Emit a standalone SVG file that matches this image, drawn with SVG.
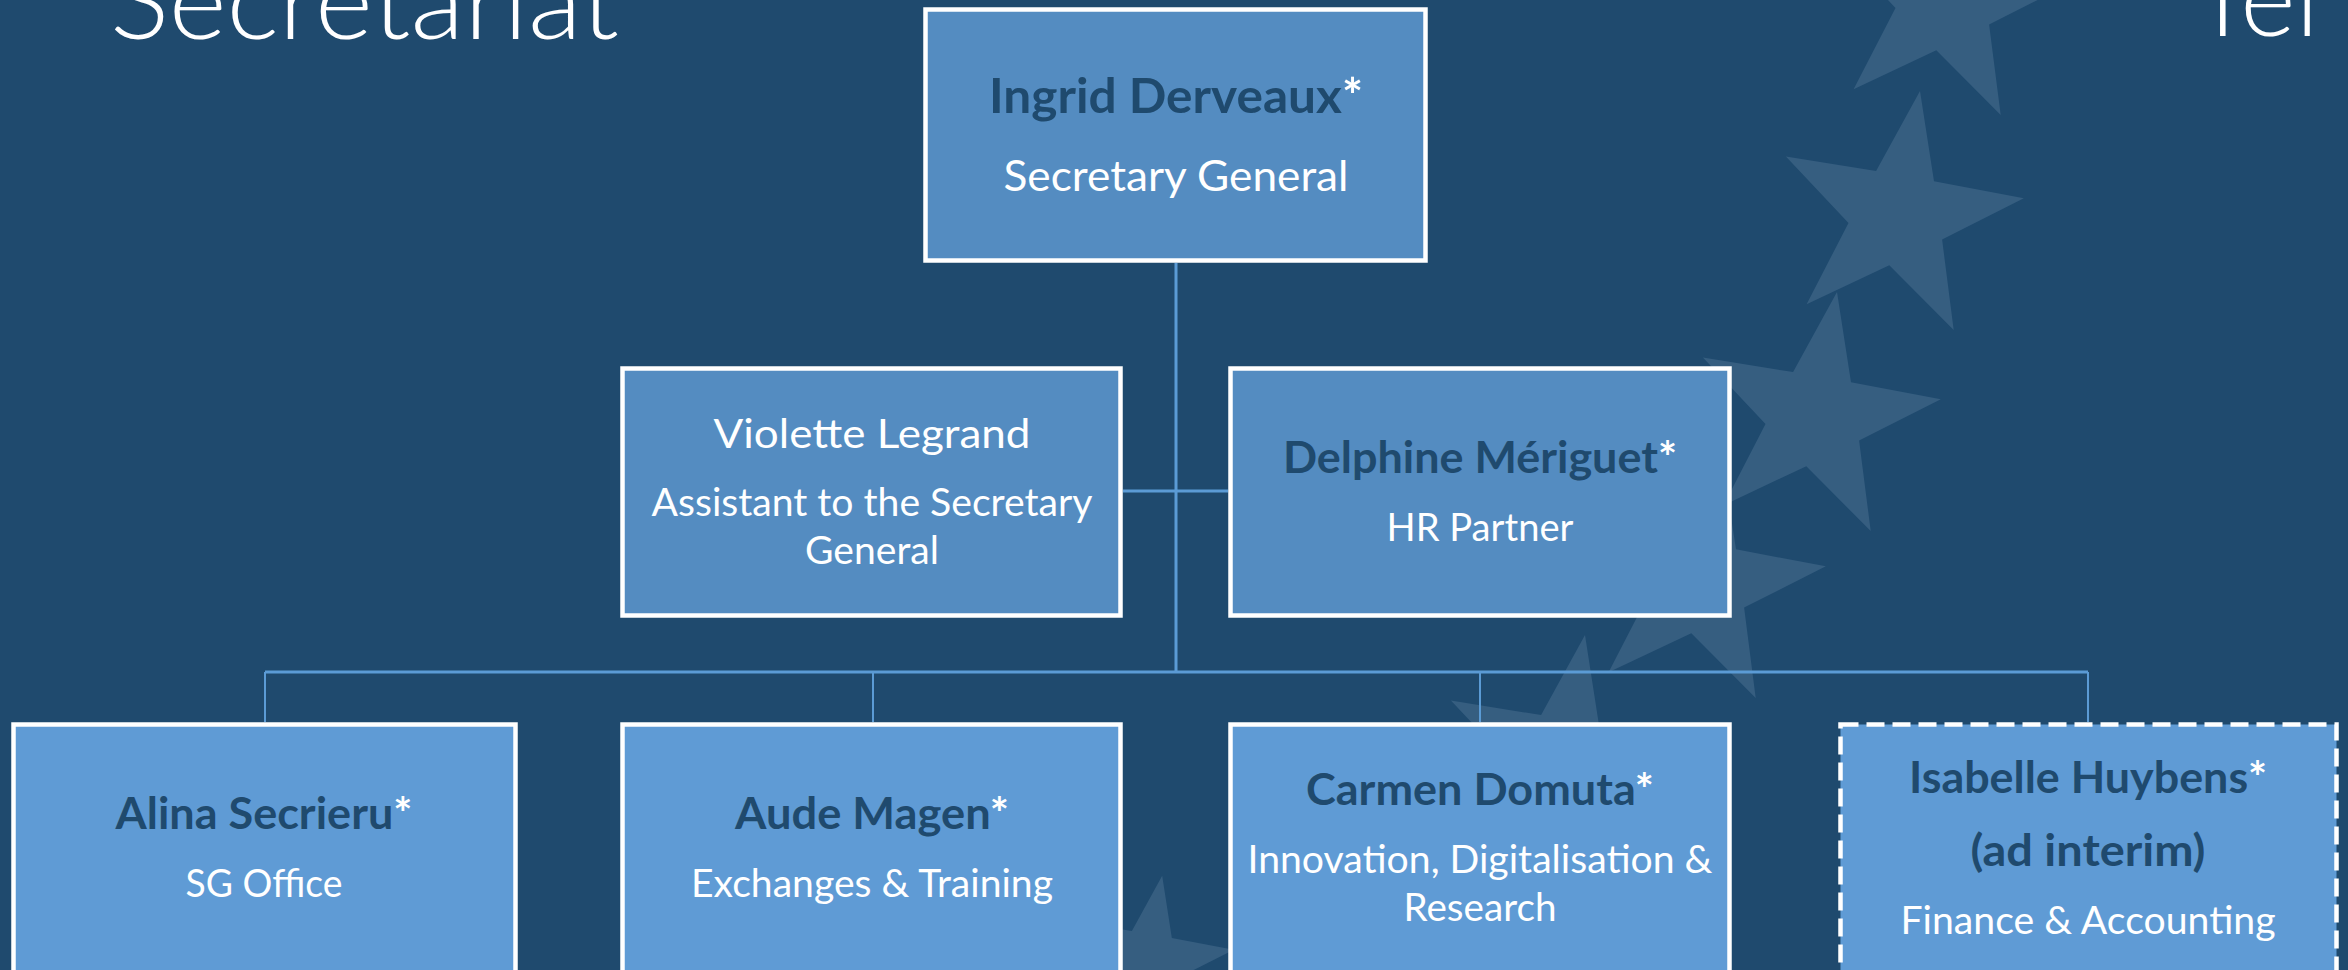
<svg xmlns="http://www.w3.org/2000/svg" xmlns:xlink="http://www.w3.org/1999/xlink" width="2348" height="970" viewBox="0 0 2348 970">
<style>
  .bg{fill:#1F4A6E}
  .star{fill:#365E80}
  .box1{fill:#548CC1;stroke:#FFFFFF;stroke-width:4.5}
  .box2{fill:#5F9BD5;stroke:#FFFFFF;stroke-width:4.5}
  .dash{stroke-dasharray:18 8}
  .conn{stroke:#5B9BD5;stroke-width:3;fill:none}
  text{font-family:Lato,"Liberation Sans",sans-serif;text-anchor:middle}
  .nm{font-weight:700;fill:#1F4A6E;font-size:43px}
  .tt{fill:#FFFFFF;font-size:38px}
  .ast{fill:#FFFFFF}
  .title{font-weight:300;fill:#FFFFFF;text-anchor:start;font-size:106px}
</style>
<defs>
  <path id="star" d="M22,-125.1 L36,-34.7 L125.8,-17.7 L44.1,23.5 L55.7,114.1 L-8.7,49.2 L-91.4,88.2 L-49.5,7 L-112.1,-59.6 L-21.9,-44.9 Z"/>
</defs>
<rect class="bg" x="0" y="0" width="2348" height="970"/>
<g id="stars">
  <use xlink:href="#star" class="star" transform="translate(1945,1)"/>
  <use xlink:href="#star" class="star" transform="translate(1898,216)"/>
  <use xlink:href="#star" class="star" transform="translate(1815,417)"/>
  <use xlink:href="#star" class="star" transform="translate(1700,584)"/>
  <use xlink:href="#star" class="star" transform="translate(1563,760)"/>
  <use xlink:href="#star" class="star" transform="translate(1147,962) scale(0.69)"/>
</g>
<g id="titles">
  <text class="title" x="110" y="39" textLength="509" lengthAdjust="spacingAndGlyphs">Secretariat</text>
  <text class="title" x="2192" y="36">Tel</text>
</g>
<g id="connectors">
  <line class="conn" x1="1176" y1="263" x2="1176" y2="672"/>
  <line class="conn" x1="1123" y1="491" x2="1228" y2="491"/>
  <line class="conn" x1="265" y1="672" x2="2088" y2="672"/>
  <line class="conn" x1="265" y1="672" x2="265" y2="722" style="stroke-width:2"/>
  <line class="conn" x1="873" y1="672" x2="873" y2="722" style="stroke-width:2"/>
  <line class="conn" x1="1480" y1="672" x2="1480" y2="722" style="stroke-width:2"/>
  <line class="conn" x1="2088" y1="672" x2="2088" y2="722" style="stroke-width:2"/>
</g>
<g id="ingrid">
  <rect class="box1" x="925.5" y="9.5" width="500" height="251"/>
  <text class="nm" x="1176" y="113" style="font-size:47px" textLength="374" lengthAdjust="spacingAndGlyphs">Ingrid Derveaux<tspan class="ast">*</tspan></text>
  <text class="tt" x="1176" y="191" style="font-size:43px" textLength="345" lengthAdjust="spacingAndGlyphs">Secretary General</text>
</g>
<g id="violette">
  <rect class="box1" x="622.5" y="368.5" width="498" height="247"/>
  <text class="tt" x="872" y="448" style="font-size:41px" textLength="317" lengthAdjust="spacingAndGlyphs">Violette Legrand</text>
  <text class="tt" x="872" y="516" textLength="441" lengthAdjust="spacingAndGlyphs">Assistant to the Secretary</text>
  <text class="tt" x="872" y="564" textLength="134" lengthAdjust="spacingAndGlyphs">General</text>
</g>
<g id="delphine">
  <rect class="box1" x="1230.5" y="368.5" width="499" height="247"/>
  <text class="nm" x="1480" y="473" textLength="394" lengthAdjust="spacingAndGlyphs">Delphine Mériguet<tspan class="ast">*</tspan></text>
  <text class="tt" x="1480" y="541" textLength="187" lengthAdjust="spacingAndGlyphs">HR Partner</text>
</g>
<g id="alina">
  <rect class="box2" x="13.5" y="724.5" width="502" height="260"/>
  <text class="nm" x="264" y="829" textLength="297" lengthAdjust="spacingAndGlyphs">Alina Secrieru<tspan class="ast">*</tspan></text>
  <text class="tt" x="264" y="897" textLength="157" lengthAdjust="spacingAndGlyphs">SG Office</text>
</g>
<g id="aude">
  <rect class="box2" x="622.5" y="724.5" width="498" height="260"/>
  <text class="nm" x="872" y="829" textLength="274" lengthAdjust="spacingAndGlyphs">Aude Magen<tspan class="ast">*</tspan></text>
  <text class="tt" x="872" y="897" textLength="362" lengthAdjust="spacingAndGlyphs">Exchanges &amp; Training</text>
</g>
<g id="carmen">
  <rect class="box2" x="1230.5" y="724.5" width="499" height="260"/>
  <text class="nm" x="1480" y="805" textLength="348" lengthAdjust="spacingAndGlyphs">Carmen Domuta<tspan class="ast">*</tspan></text>
  <text class="tt" x="1480" y="873" textLength="465" lengthAdjust="spacingAndGlyphs">Innovation, Digitalisation &amp;</text>
  <text class="tt" x="1480" y="921" textLength="153" lengthAdjust="spacingAndGlyphs">Research</text>
</g>
<g id="isabelle">
  <rect class="box2 dash" x="1840.5" y="724.5" width="496" height="260"/>
  <text class="nm" x="2088" y="793" textLength="358" lengthAdjust="spacingAndGlyphs">Isabelle Huybens<tspan class="ast">*</tspan></text>
  <text class="nm" x="2088" y="866" textLength="235" lengthAdjust="spacingAndGlyphs">(ad interim)</text>
  <text class="tt" x="2088" y="934" textLength="375" lengthAdjust="spacingAndGlyphs">Finance &amp; Accounting</text>
</g>
</svg>
